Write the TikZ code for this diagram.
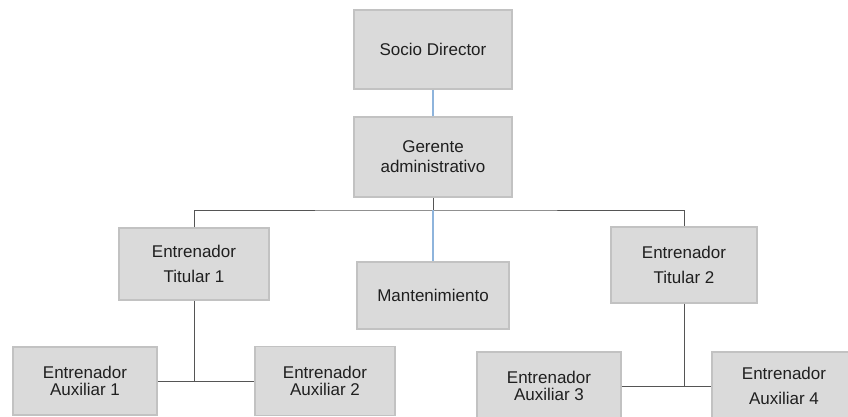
\documentclass[tikz,border=0pt]{standalone}
\usepackage{fontspec}
\setmainfont{Liberation Sans}
\definecolor{boxfill}{HTML}{DADADA}
\definecolor{boxline}{HTML}{C2C2C2}
\definecolor{darkln}{HTML}{555555}
\definecolor{blueln}{HTML}{8EB4DC}
\begin{document}
\begin{tikzpicture}[x=1pt,y=-1pt,
  box/.style={draw=boxline, fill=boxfill, line width=1.2pt, inner sep=0pt, align=center, text=black!88, font=\fontsize{17}{19}\selectfont},
  wide/.style={font=\fontsize{17}{25}\selectfont},
  tight/.style={font=\fontsize{17}{17}\selectfont},
  conn/.style={draw=darkln, line width=1pt},
  bconn/.style={draw=blueln, line width=1.2pt}]
\useasboundingbox (0,0) rectangle (848,417);
\node[box, minimum width=158pt, minimum height=79pt] (sd) at (433,49.5) {Socio Director};
\node[box, minimum width=158pt, minimum height=80pt, font=\fontsize{17}{20}\selectfont] (ga) at (433,157) {Gerente\\administrativo};
\node[box, wide, minimum width=150pt, minimum height=72pt] (t1) at (194,264) {Entrenador\\Titular 1};
\node[box, minimum width=152pt, minimum height=67pt] (mt) at (433,295.5) {Mantenimiento};
\node[box, wide, minimum width=146pt, minimum height=76pt] (t2) at (684,265) {Entrenador\\Titular 2};
\node[box, tight, minimum width=144pt, minimum height=68pt] (a1) at (85,381) {Entrenador\\Auxiliar 1};
\node[box, tight, minimum width=140pt, minimum height=69pt] (a2) at (325,381) {Entrenador\\Auxiliar 2};
\node[box, tight, minimum width=144pt, minimum height=68pt] (a3) at (549,386) {Entrenador\\Auxiliar 3};
\node[box, wide, minimum width=144pt, minimum height=68pt] (a4) at (784,386) {Entrenador\\Auxiliar 4};
\coordinate (j) at (433,210);
\coordinate (k1) at (t1.south |- a1.east);
\coordinate (k2) at (t2.south |- a3.east);
\draw[bconn] (sd.south) -- (ga.north);
\draw[conn] (ga.south) -- (j);
\draw[conn] (t1.north) |- (j) -| (t2.north);
\draw[bconn] (j) -- (mt.north);
\draw[conn] (t1.south) -- (k1);
\draw[conn] (a1.east) -- (a2.west);
\draw[conn] (t2.south) -- (k2);
\draw[conn] (a3.east) -- (a4.west);
\end{tikzpicture}
\end{document}
